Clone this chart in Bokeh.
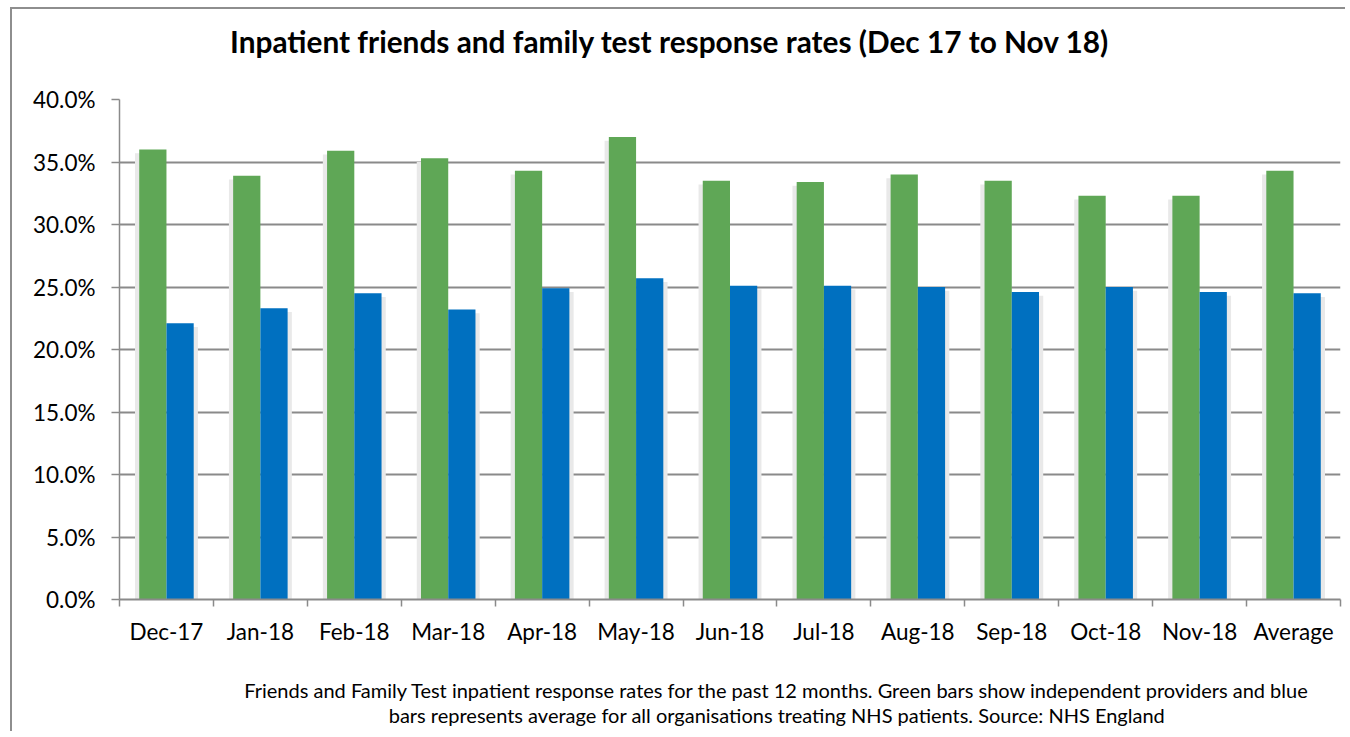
import numpy as np
from bokeh.plotting import figure
from bokeh.models import FixedTicker, PrintfTickFormatter, Range1d, LinearAxis
from bokeh.embed import file_html
from bokeh.resources import INLINE

categories = ["Dec-17", "Jan-18", "Feb-18", "Mar-18", "Apr-18", "May-18", "Jun-18",
              "Jul-18", "Aug-18", "Sep-18", "Oct-18", "Nov-18", "Average"]
independent = [36.0, 33.9, 35.9, 35.3, 34.3, 37.0, 33.5, 33.4, 34.0, 33.5, 32.3, 32.3, 34.3]
all_orgs = [22.1, 23.3, 24.5, 23.2, 24.9, 25.7, 25.1, 25.1, 25.0, 24.6, 25.0, 24.6, 24.5]
y_ticks = [0, 5, 10, 15, 20, 25, 30, 35, 40]

title_text = "Inpatient friends and family test response rates (Dec 17 to Nov 18)"
caption_text = ("Friends and Family Test inpatient response rates for the past 12 months. Green bars show independent providers and blue\n"
                "bars represents average for all organisations treating NHS patients. Source: NHS England")

GREEN = "#5fa756"
BLUE = "#0070c0"
GRID = "#8a8a8a"
FONT = "Lato"

n = len(categories)
idx = np.arange(n)
centers = idx + 0.5
bw = 0.29
xg = centers - 0.145
xb = centers + 0.145

# anchor positions (in category units) for the title and caption text
TITLE_AT = 5.86
CAPTION_AT = 7.0

p = figure(width=1335, height=724, output_backend="svg", toolbar_location=None,
           x_range=Range1d(0, n), y_range=Range1d(0, 40),
           min_border_left=107, min_border_right=7, min_border_top=90, min_border_bottom=134,
           styles={"margin-left": "10px", "margin-top": "7px",
                   "border-left": "2px solid #8e8e8e",
                   "border-top": "2px solid #8e8e8e"})
p.outline_line_color = None
p.background_fill_color = "white"
p.border_fill_color = "white"
p.title.text = ""

# soft shadows
p.vbar(x=xg - 0.025, width=bw + 0.04, top=np.array(independent) - 0.3, bottom=0,
       color="#e9e9e9", line_color=None)
p.vbar(x=xb + 0.025, width=bw + 0.04, top=np.array(all_orgs) - 0.3, bottom=0,
       color="#e9e9e9", line_color=None)

p.vbar(x=xg, width=bw, top=independent, bottom=0, fill_color=GREEN, line_color=None)
p.vbar(x=xb, width=bw, top=all_orgs, bottom=0, fill_color=BLUE, line_color=None)

# y axis
p.yaxis.ticker = FixedTicker(ticks=y_ticks)
p.yaxis.formatter = PrintfTickFormatter(format="%.1f%%")
p.yaxis.major_label_text_font = FONT
p.yaxis.major_label_text_font_size = "22.5px"
p.yaxis.major_label_text_color = "black"
p.yaxis.axis_line_color = GRID
p.yaxis.axis_line_width = 1.5
p.yaxis.major_tick_line_color = GRID
p.yaxis.major_tick_line_width = 1.5
p.yaxis.major_tick_in = 0
p.yaxis.major_tick_out = 8
p.yaxis.minor_tick_line_color = None
p.yaxis.major_label_standoff = 16

# x axis
p.xaxis.ticker = FixedTicker(ticks=list(centers), minor_ticks=list(np.arange(n + 1)))
p.xaxis.major_label_overrides = {float(c): lab for c, lab in zip(centers, categories)}
p.xaxis.major_label_text_font = FONT
p.xaxis.major_label_text_font_size = "22.5px"
p.xaxis.major_label_text_color = "black"
p.xaxis.axis_line_color = GRID
p.xaxis.axis_line_width = 2
p.xaxis.major_tick_line_color = None
p.xaxis.major_tick_in = 0
p.xaxis.major_tick_out = 0
p.xaxis.minor_tick_line_color = GRID
p.xaxis.minor_tick_line_width = 1.5
p.xaxis.minor_tick_in = 0
p.xaxis.minor_tick_out = 7
p.xaxis.major_label_standoff = 11

p.xgrid.grid_line_color = None
p.ygrid.grid_line_color = GRID
p.ygrid.grid_line_width = 2


def text_axis(at, text, size, bold, standoff, line_height=1.2):
    ax = LinearAxis(ticker=FixedTicker(ticks=[at], minor_ticks=[]),
                    major_label_overrides={at: text})
    ax.axis_line_color = None
    ax.major_tick_line_color = None
    ax.minor_tick_line_color = None
    ax.major_tick_in = 0
    ax.major_tick_out = 0
    ax.minor_tick_in = 0
    ax.minor_tick_out = 0
    ax.major_label_standoff = standoff
    ax.major_label_text_font = FONT
    ax.major_label_text_font_size = size
    ax.major_label_text_font_style = "bold" if bold else "normal"
    ax.major_label_text_color = "black"
    ax.major_label_text_line_height = line_height
    return ax


p.add_layout(text_axis(TITLE_AT, title_text, "29.8px", True, 41), "above")
p.add_layout(text_axis(CAPTION_AT, caption_text, "20px", False, 30, 1.05), "below")

open("out.html", "w").write(file_html(p, INLINE))
